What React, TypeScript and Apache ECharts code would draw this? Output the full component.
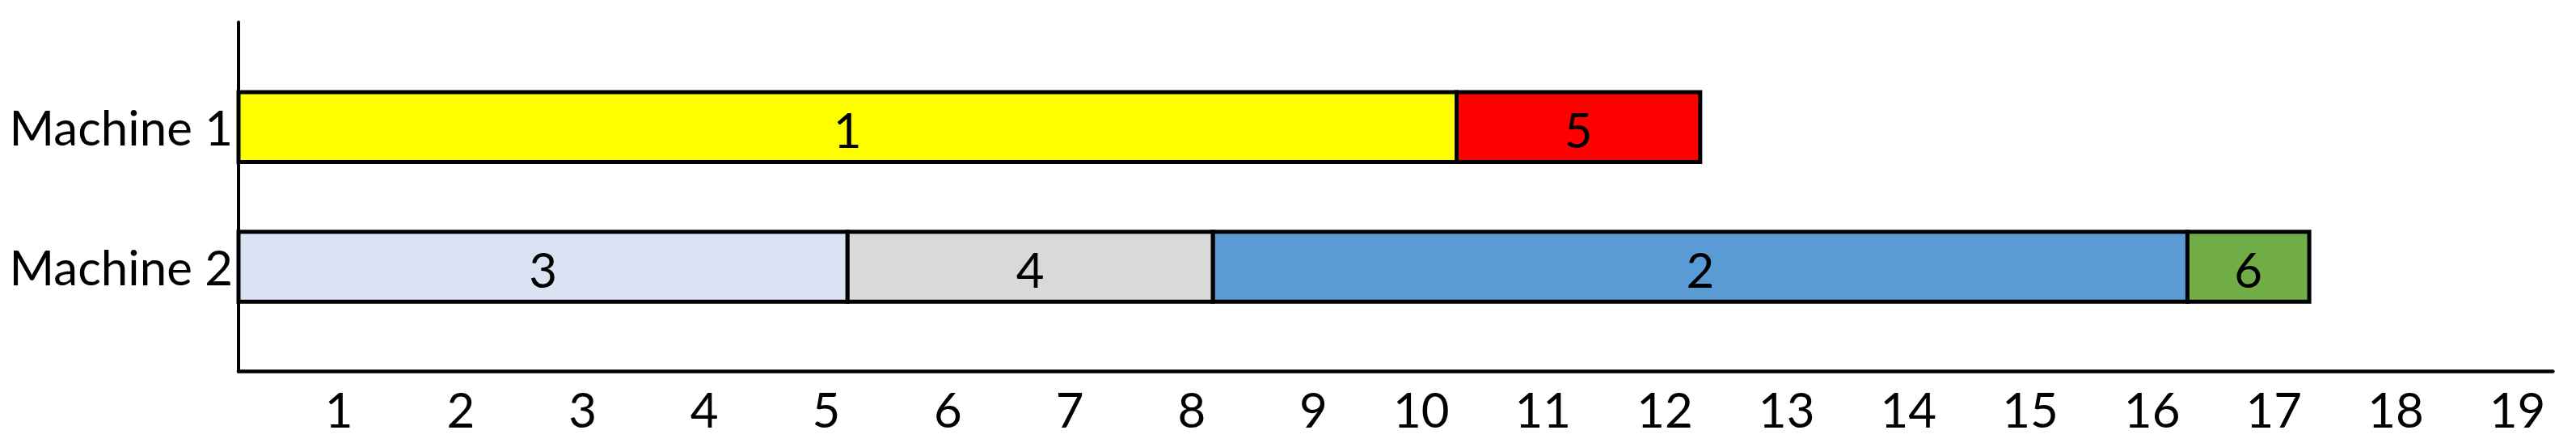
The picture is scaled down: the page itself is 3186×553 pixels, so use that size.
import React, { useEffect, useRef } from "react";
import * as echarts from "echarts";

// Machines (rows) and their value positions on the vertical scale
const machines = ["Machine 1", "Machine 2"];
const machineRowValue = [1.5, 3.5];

// Jobs: id, machine index, start time, end time
const jobIds = ["1", "5", "3", "4", "2", "6"];
const jobMachine = [0, 0, 1, 1, 1, 1];
const jobStart = [0, 10, 0, 5, 8, 16];
const jobEnd = [10, 12, 5, 8, 16, 17];
const jobColors = ["#FFFF00", "#FF0000", "#DAE3F3", "#D9D9D9", "#5B9BD5", "#70AD47"];

// Time axis tick labels
const timeTicks = [1, 2, 3, 4, 5, 6, 7, 8, 9, 10, 11, 12, 13, 14, 15, 16, 17, 18, 19];

const FONT = "Lato, 'Noto Sans', sans-serif";

export default function App() {
  const ref = useRef<HTMLDivElement>(null);

  useEffect(() => {
    if (!ref.current) return;
    const chart = echarts.init(ref.current, undefined, { renderer: "svg" });

    const data = jobIds.map((id, i) => [
      jobStart[i],
      jobEnd[i],
      machineRowValue[jobMachine[i]],
      id,
      jobColors[i],
    ]);

    chart.setOption({
      animation: false,
      backgroundColor: "#ffffff",
      grid: { left: 295, top: 27.5, width: 2862.4, height: 432.2, containLabel: false },
      xAxis: {
        type: "value",
        position: "bottom",
        min: 0,
        max: timeTicks[timeTicks.length - 1],
        interval: 1,
        axisLine: { show: true, onZero: false, lineStyle: { color: "#000", width: 4.5 } },
        axisTick: { show: false },
        splitLine: { show: false },
        axisLabel: {
          show: true,
          margin: 16,
          align: "right",
          padding: [0, 9, 0, 0],
          color: "#000",
          fontFamily: FONT,
          fontSize: 60,
          formatter: (v: number) => (timeTicks.indexOf(v) >= 0 ? String(v) : ""),
        },
      },
      yAxis: {
        type: "value",
        min: 0,
        max: 5,
        interval: 0.5,
        inverse: true,
        axisLine: { show: true, onZero: false, lineStyle: { color: "#000", width: 4 } },
        axisTick: { show: false },
        splitLine: { show: false },
        axisLabel: {
          show: true,
          margin: 7,
          color: "#000",
          fontFamily: FONT,
          fontSize: 60,
          formatter: (v: number) => {
            const idx = machineRowValue.indexOf(v);
            return idx >= 0 ? machines[idx] : "";
          },
        },
      },
      series: [
        {
          type: "custom",
          encode: { x: [0, 1], y: 2 },
          data,
          renderItem: (params: any, api: any) => {
            const s = api.value(0);
            const e = api.value(1);
            const y = api.value(2);
            const p0 = api.coord([s, y - 0.5]);
            const p1 = api.coord([e, y + 0.5]);
            const x = p0[0];
            const top = Math.min(p0[1], p1[1]);
            const w = p1[0] - p0[0];
            const h = Math.abs(p1[1] - p0[1]);
            const item = data[params.dataIndex];
            return {
              type: "group",
              children: [
                {
                  type: "rect",
                  shape: { x, y: top, width: w, height: h },
                  style: { fill: item[4] as string, stroke: "#000", lineWidth: 5 },
                },
                {
                  type: "text",
                  x: x + w / 2,
                  y: top + h / 2 + 3,
                  style: {
                    text: item[3] as string,
                    fill: "#000",
                    fontFamily: FONT,
                    fontSize: 60,
                    align: "center",
                    verticalAlign: "middle",
                  },
                },
              ],
            };
          },
        },
      ],
    });

    return () => chart.dispose();
  }, []);

  return (
    <div
      ref={ref}
      style={{ position: "fixed", left: 0, top: 0, width: 3186, height: 553, background: "#fff" }}
    />
  );
}
